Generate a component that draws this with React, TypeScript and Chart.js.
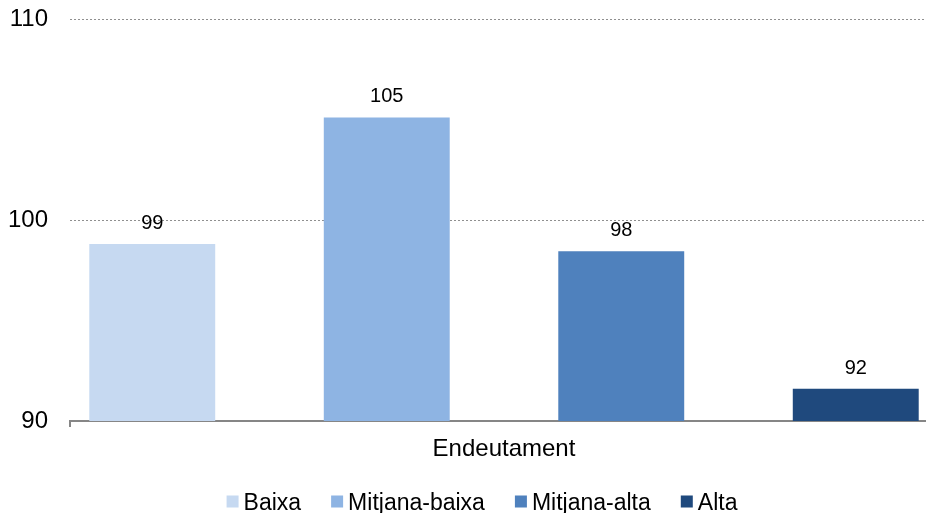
import React, { useEffect, useRef } from "react";
import { Chart, registerables } from "chart.js";

Chart.register(...registerables);

const categories = ["Endeutament"];
const seriesNames = ["Baixa", "Mitjana-baixa", "Mitjana-alta", "Alta"];
const seriesValues = [98.8, 105.1, 98.45, 91.6];
const seriesColors = ["#C6D9F1", "#8EB4E3", "#4F81BD", "#1F497D"];
const yTicks = [90, 100, 110];

const FONT = "'Liberation Sans', Arial, sans-serif";

const valueLabels = {
  id: "valueLabels",
  afterDatasetsDraw(chart: any) {
    const ctx = chart.ctx;
    ctx.save();
    ctx.font = `20px ${FONT}`;
    ctx.fillStyle = "#000";
    ctx.textAlign = "center";
    ctx.textBaseline = "alphabetic";
    chart.data.datasets.forEach((ds: any, i: number) => {
      const meta = chart.getDatasetMeta(i);
      meta.data.forEach((bar: any, j: number) => {
        const v = ds.data[j];
        ctx.fillText(String(Math.round(v)), bar.x, bar.y - 15);
      });
    });
    ctx.restore();
  },
};

const customLegend = {
  id: "customLegend",
  afterDraw(chart: any) {
    const ctx = chart.ctx;
    ctx.save();
    ctx.font = `23px ${FONT}`;
    const box = 12;
    const gap = 5;
    const spacing = 30;
    const widths = chart.data.datasets.map((ds: any) => box + gap + ctx.measureText(ds.label).width);
    const total = widths.reduce((a: number, b: number) => a + b, 0) + spacing * (widths.length - 1);
    let x = 482 - total / 2;
    const cy = 501.5;
    chart.data.datasets.forEach((ds: any, i: number) => {
      ctx.fillStyle = ds.backgroundColor;
      ctx.fillRect(x, cy - box / 2, box, box);
      ctx.fillStyle = "#000";
      ctx.textAlign = "left";
      ctx.textBaseline = "alphabetic";
      ctx.fillText(ds.label, x + box + gap, cy + 8);
      x += widths[i] + spacing;
    });
    ctx.restore();
  },
};

export default function App() {
  const ref = useRef<HTMLCanvasElement>(null);
  useEffect(() => {
    if (!ref.current) return;
    const chart = new Chart(ref.current, {
      type: "bar",
      data: {
        labels: categories,
        datasets: seriesNames.map((name, i) => ({
          label: name,
          data: [seriesValues[i]],
          backgroundColor: seriesColors[i],
          borderWidth: 0,
          categoryPercentage: 938 / 868,
          barPercentage: 0.537,
        })),
      },
      options: {
        responsive: false,
        animation: false,
        layout: { padding: { top: 19, right: 0, bottom: 52, left: 0 } },
        plugins: {
          legend: { display: false },
          tooltip: { enabled: false },
        },
        scales: {
          x: {
            offset: true,
            grid: {
              drawOnChartArea: false,
              drawTicks: true,
              tickLength: 6,
              color: "#868686",
              lineWidth: 2,
            },
            border: { display: true, color: "#868686", width: 2 },
            ticks: { color: "#000", font: { family: FONT, size: 24 }, padding: 8 },
            afterFit(scale: any) {
              scale.height = 40;
            },
          },
          y: {
            min: 90,
            max: 110,
            afterBuildTicks(scale: any) {
              scale.ticks = yTicks.map((v) => ({ value: v }));
            },
            grid: {
              drawTicks: true,
              tickLength: 22,
              tickColor: "rgba(0,0,0,0)",
              color: "#8f8f8f",
              lineWidth: 1,
            },
            border: { display: false, dash: [2, 2] },
            ticks: { color: "#000", font: { family: FONT, size: 24 }, padding: 0 },
            afterFit(scale: any) {
              scale.width = 70;
            },
          },
        },
      },
      plugins: [valueLabels, customLegend],
    });
    return () => chart.destroy();
  }, []);
  return (
    <div style={{ position: "absolute", left: 0, top: 0, width: 926, height: 513, overflow: "hidden" }}>
      <canvas ref={ref} width={938} height={513} style={{ display: "block" }} />
    </div>
  );
}
